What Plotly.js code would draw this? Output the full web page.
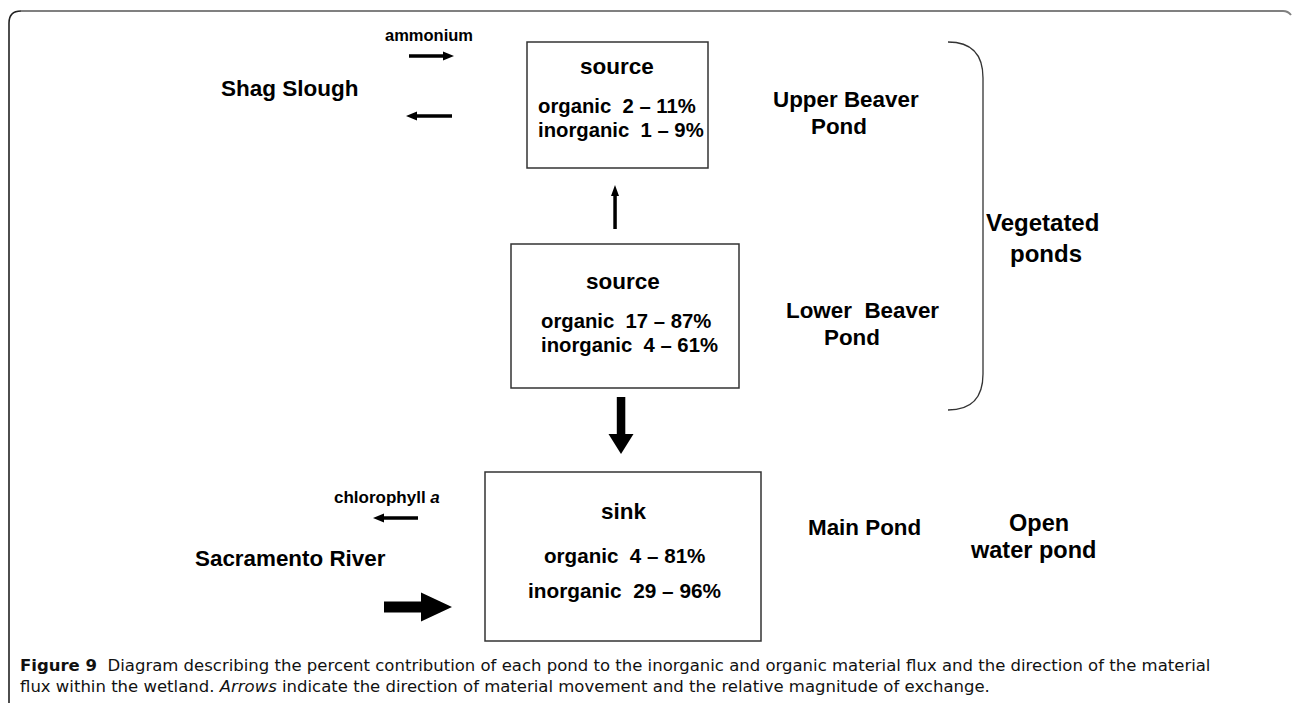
<!DOCTYPE html>
<html>
<head>
<meta charset="utf-8">
<script src="https://cdn.plot.ly/plotly-3.0.1.min.js"></script>
<style>html,body{margin:0;padding:0;background:#fff;}#chart{width:1292px;height:703px;}</style>
</head>
<body>
<div id="chart"></div>
<script>
// ---- content ----
const pondNames = ['Upper Beaver', 'Lower\u00a0 Beaver', 'Main Pond'];
const pondRoles = ['source', 'source', 'sink'];
const organicLow = [2, 17, 4];
const organicHigh = [11, 87, 81];
const inorganicLow = [1, 4, 29];
const inorganicHigh = [9, 61, 96];
const groupLabels = ['Vegetated', 'ponds', 'Open', 'water pond'];
const externalSources = ['Shag Slough', 'Sacramento River'];
const fluxLabels = ['ammonium', 'chlorophyll <i>a</i>'];
const captionLines = [
  '<b>Figure 9</b>\u00a0 Diagram describing the percent contribution of each pond to the inorganic and organic material flux and the direction of the material',
  'flux within the wetland. <i>Arrows</i> indicate the direction of material movement and the relative magnitude of exchange.'
];

// ---- helpers ----
const F = 'Liberation Sans';
function txt(text, x, y, size, anchor, extra) {
  return Object.assign({
    text: text, x: x, y: y, xref: 'x', yref: 'y', showarrow: false,
    xanchor: anchor || 'center', yanchor: 'middle',
    font: {family: F, size: size, color: '#000', weight: 'bold'}
  }, extra || {});
}
function rng(label, lo, hi) { return label + '\u00a0 ' + lo + ' \u2013 ' + hi + '%'; }
// arrow polygon from (x0,y0) to tip (x1,y1)
function arrow(x0, y0, x1, y1, sw, hw, hl) {
  const dx = x1 - x0, dy = y1 - y0, L = Math.hypot(dx, dy);
  const ux = dx / L, uy = dy / L, px = -uy, py = ux;
  const bx = x1 - ux * hl, by = y1 - uy * hl;
  const pts = [
    [x0 + px * sw / 2, y0 + py * sw / 2],
    [bx + px * sw / 2, by + py * sw / 2],
    [bx + px * hw / 2, by + py * hw / 2],
    [x1, y1],
    [bx - px * hw / 2, by - py * hw / 2],
    [bx - px * sw / 2, by - py * sw / 2],
    [x0 - px * sw / 2, y0 - py * sw / 2]
  ];
  return {type: 'path', xref: 'x', yref: 'y', path: 'M' + pts.map(p => p[0].toFixed(1) + ',' + p[1].toFixed(1)).join(' L') + ' Z',
    fillcolor: '#000', line: {width: 0}};
}
function box(x0, y0, x1, y1) {
  return {type: 'rect', xref: 'x', yref: 'y', x0: x0, y0: y0, x1: x1, y1: y1,
    line: {color: '#333', width: 1.5}, fillcolor: 'rgba(0,0,0,0)'};
}

const shapes = [
  // page frame
  {type: 'path', xref: 'x', yref: 'y', path: 'M9,703 L9,23 Q9,11 21,11', line: {color: '#222', width: 1.6}},
  {type: 'path', xref: 'x', yref: 'y', path: 'M21,11 L1283,11 Q1288,11 1291,15', line: {color: '#808080', width: 2}},
  // boxes
  box(527, 42, 708, 168),
  box(511, 244, 739, 388),
  box(485, 472, 761, 641),
  // bracket
  {type: 'path', xref: 'x', yref: 'y', path: 'M948,42 Q983,42 983,78 L983,374 Q983,410 948,410', line: {color: '#333', width: 1.3}},
  // arrows
  arrow(409, 56, 454, 56, 3.5, 9, 11),
  arrow(452, 116, 406, 116, 3.5, 9, 11),
  arrow(615, 229, 615, 185, 3.5, 8, 11),
  arrow(621, 397, 621, 454, 8.5, 25, 20),
  arrow(418, 518, 373, 518, 3.5, 9, 11),
  arrow(384, 607, 452, 607, 11, 29, 31)
];

const annotations = [
  txt(fluxLabels[0], 429, 35, 16.5),
  txt(externalSources[0], 290, 88, 22.5),
  // upper beaver box
  txt(pondRoles[0], 617, 66, 22.5),
  txt(rng('organic', organicLow[0], organicHigh[0]), 536, 106, 20.3, 'left'),
  txt(rng('inorganic', inorganicLow[0], inorganicHigh[0]), 536, 130, 20.3, 'left'),
  txt(pondNames[0], 846, 99, 22.4),
  txt('Pond', 839, 126, 22.4),
  // lower beaver box
  txt(pondRoles[1], 623, 281, 22.5),
  txt(rng('organic', organicLow[1], organicHigh[1]), 539, 321, 20.3, 'left'),
  txt(rng('inorganic', inorganicLow[1], inorganicHigh[1]), 539, 345, 20.3, 'left'),
  txt(pondNames[1], 862, 310, 22.4),
  txt('Pond', 852, 337, 22.4),
  // group labels
  txt(groupLabels[0], 1042, 222, 24),
  txt(groupLabels[1], 1046, 253, 24),
  // main pond
  txt(fluxLabels[1], 387, 497, 17),
  txt(externalSources[1], 290, 558, 22.4),
  txt(pondRoles[2], 624, 511, 22.5),
  txt(rng('organic', organicLow[2], organicHigh[2]), 624, 555, 20.6),
  txt(rng('inorganic', inorganicLow[2], inorganicHigh[2]), 624, 590, 20.8),
  txt(pondNames[2], 864, 527, 22.4),
  txt(groupLabels[2], 1039, 523, 23.5),
  txt(groupLabels[3], 1033, 550, 23.5),
  // caption (one text, two lines)
  txt(captionLines.join('<br>'), 18, 676, 16.5, 'left',
      {align: 'left', font: {family: 'DejaVu Sans', size: 16.5, color: '#111', weight: 'normal'}})
];

const layout = {
  width: 1292, height: 703,
  margin: {l: 0, r: 0, t: 0, b: 0, pad: 0},
  paper_bgcolor: '#fff', plot_bgcolor: '#fff',
  xaxis: {range: [0, 1292], visible: false, fixedrange: true},
  yaxis: {range: [703, 0], visible: false, fixedrange: true},
  showlegend: false,
  shapes: shapes,
  annotations: annotations
};

Plotly.newPlot('chart', [{x: [], y: [], type: 'scatter', mode: 'markers', hoverinfo: 'skip'}], layout, {displayModeBar: false, staticPlot: true});
</script>
</body>
</html>
